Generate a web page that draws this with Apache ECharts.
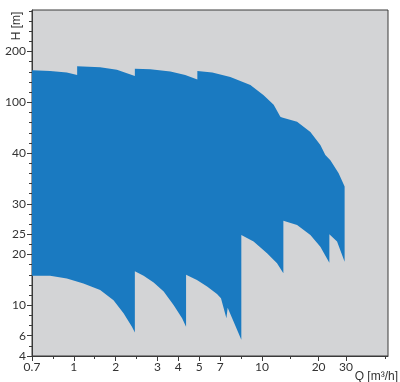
<!DOCTYPE html>
<html><head><meta charset="utf-8">
<script src="https://cdn.jsdelivr.net/npm/echarts@6/dist/echarts.min.js"></script>
<style>html,body{margin:0;padding:0;background:#fff}#c{width:400px;height:382px}</style>
</head><body><div id="c"></div>
<script>
// Axis tick labels and where they sit along each axis (in tick steps)
const qTickLabels = [0.7, 1, 2, 3, 4, 5, 7, 10, 20, 30];
const qTickSteps  = [0, 2, 4, 6, 7, 8, 9, 11, 13.71, 15.02];
const qMinorSteps = [0, 1, 2, 3, 4, 5, 6, 7, 8, 9, 10, 11, 12.36, 13.71, 15.02, 16.9];
const hTickLabels = [4, 6, 10, 20, 25, 30, 40, 100, 200];
const hTickSteps  = [0, 2, 5, 10, 12, 15, 20, 25, 30];

// Upper envelope of the pump range (Q in m3/h, H in m)
const topQ = [0.70, 0.83, 0.95, 1.08, 1.08, 1.63, 2.03, 2.46, 2.46, 2.83, 3.62, 4.33, 4.91, 4.91, 6.25, 7.73, 9.17, 10.30, 12.07, 13.25, 13.55, 16.20, 18.55, 20.64, 22.46, 24.30, 27.32, 29.5];
const topH = [163, 162, 159, 154, 171, 169, 164, 152, 166, 165, 161, 154, 145, 162, 159, 150, 134, 114, 97, 83, 82, 77, 65, 49.5, 39.6, 38.6, 36.0, 33.4];

// Lower envelope of the pump range
const bottomQ = [0.70, 0.83, 0.95, 1.23, 1.63, 1.95, 2.19, 2.39, 2.46, 2.46, 2.67, 2.91, 3.30, 3.78, 4.18, 4.37, 4.37, 4.89, 5.75, 6.70, 7.06, 7.45, 7.54, 7.97, 8.52, 8.52, 9.40, 10.90, 12.66, 13.78, 13.78, 16.20, 18.55, 20.64, 23.93, 23.93, 26.74, 29.5];
const bottomH = [15.8, 15.8, 15.3, 14.3, 13.0, 11.0, 8.95, 7.19, 6.43, 16.7, 15.8, 14.5, 12.7, 10.0, 8.28, 7.19, 16.0, 15.0, 13.7, 12.2, 11.4, 8.28, 9.68, 7.84, 5.6, 24.8, 23.2, 20.3, 18.3, 16.3, 27.2, 26.5, 24.8, 21.9, 18.4, 25.0, 23.2, 18.6];

// piecewise scale: value -> axis step, defined by the tick arrays
function toStep(v, labels, steps) {
  const n = labels.length;
  let i = 0;
  if (v <= labels[0]) i = 0;
  else if (v >= labels[n - 1]) i = n - 2;
  else { while (i < n - 2 && v > labels[i + 1]) i++; }
  const t = (v - labels[i]) / (labels[i + 1] - labels[i]);
  return steps[i] + t * (steps[i + 1] - steps[i]);
}
const qs = v => toStep(v, qTickLabels, qTickSteps);
const hs = v => toStep(v, hTickLabels, hTickSteps);

const poly = [];
for (let i = 0; i < topQ.length; i++) poly.push([qs(topQ[i]), hs(topH[i])]);
for (let i = bottomQ.length - 1; i >= 0; i--) poly.push([qs(bottomQ[i]), hs(bottomH[i])]);

function labelFor(val, labels, steps) {
  for (let i = 0; i < steps.length; i++) if (Math.abs(steps[i] - val) < 1e-6) return String(labels[i]);
  return '';
}
const hMinor = [];
for (let i = 0; i <= 34; i++) hMinor.push(i);

const FONT = 'Lato, "DejaVu Sans", sans-serif';
const XMAX = 17.03, YMAX = 34.1;
const chart = echarts.init(document.getElementById('c'), null, {renderer: 'canvas'});
chart.setOption({
  animation: false,
  backgroundColor: '#ffffff',
  grid: {left: 32, right: 12, top: 10, bottom: 26, show: true, backgroundColor: '#d3d4d6', borderColor: '#3a3a3a', borderWidth: 1},
  xAxis: [{
    type: 'value', min: 0, max: XMAX, position: 'bottom',
    axisLine: {show: true, lineStyle: {color: '#3a3a3a', width: 1}},
    axisTick: {show: true, inside: false, length: 3, customValues: qMinorSteps, lineStyle: {color: '#3a3a3a'}},
    axisLabel: {show: true, customValues: qTickSteps, margin: 5, fontSize: 12, color: '#333', fontFamily: FONT,
      formatter: v => labelFor(v, qTickLabels, qTickSteps)},
    splitLine: {show: false}
  }, {
    type: 'value', min: 0, max: XMAX, position: 'bottom',
    axisLine: {show: false},
    axisTick: {show: true, inside: false, length: 5, customValues: qTickSteps, lineStyle: {color: '#3a3a3a'}},
    axisLabel: {show: false},
    splitLine: {show: false}
  }],
  yAxis: [{
    type: 'value', min: 0, max: YMAX, position: 'left',
    axisLine: {show: true, lineStyle: {color: '#3a3a3a', width: 1}},
    axisTick: {show: true, inside: false, length: 3, customValues: hMinor, lineStyle: {color: '#3a3a3a'}},
    axisLabel: {show: true, customValues: hTickSteps, margin: 6, fontSize: 12, color: '#333', fontFamily: FONT,
      formatter: v => labelFor(v, hTickLabels, hTickSteps)},
    splitLine: {show: false}
  }, {
    type: 'value', min: 0, max: YMAX, position: 'left',
    axisLine: {show: false},
    axisTick: {show: true, inside: false, length: 5, customValues: hTickSteps, lineStyle: {color: '#3a3a3a'}},
    axisLabel: {show: false},
    splitLine: {show: false}
  }],
  graphic: [
    {type: 'text', x: 17, y: 26, rotation: Math.PI / 2,
      style: {text: 'H [m]', fontSize: 12, fill: '#333', font: '12px ' + FONT, align: 'center', verticalAlign: 'middle'}},
    {type: 'text', x: 398, y: 377,
      style: {text: 'Q [m³/h]', fontSize: 12, fill: '#333', font: '12px ' + FONT, align: 'right', verticalAlign: 'middle'}}
  ],
  series: [{
    type: 'custom',
    coordinateSystem: 'cartesian2d',
    xAxisIndex: 0, yAxisIndex: 0,
    data: poly,
    encode: {x: 0, y: 1},
    clip: true,
    renderItem: function (params, api) {
      if (params.dataIndex !== 0) return null;
      const pts = poly.map(p => api.coord(p));
      return {type: 'polygon', shape: {points: pts}, style: {fill: '#1a7ac1', stroke: null}};
    }
  }]
});
</script>
</body></html>
